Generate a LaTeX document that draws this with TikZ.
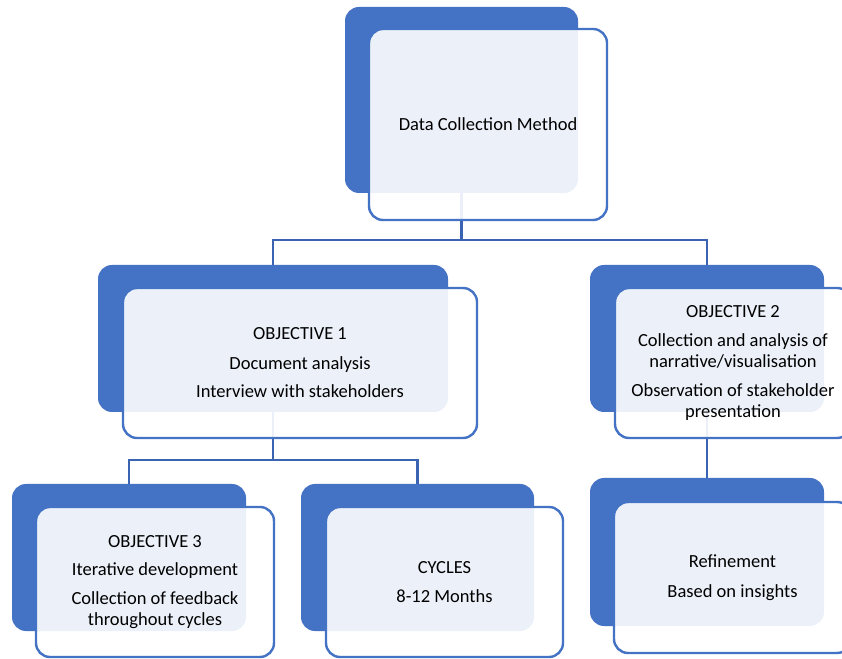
\documentclass[tikz,border=0pt]{standalone}
\usepackage{fontspec}
\setmainfont{Carlito}
\usetikzlibrary{%
  positioning
 ,backgrounds
}
\definecolor{accent}{HTML}{4472C4}
\definecolor{linkblue}{HTML}{3A64B2}
\tikzstyle{org}=[x=1pt,y=1pt,inner sep=0pt]
\tikzstyle{back}=[rectangle,rounded corners=14pt,fill=accent,draw=none]
\tikzstyle{front}=[rectangle,rounded corners=14pt,draw=accent,line width=2.4pt,fill=white,fill opacity=0.9,text opacity=1,align=center,font=\fontsize{18.5}{21.5}\selectfont]
\tikzstyle{link}=[draw=linkblue,line width=2.5pt]

\begin{document}
\begin{tikzpicture}[org]
      \useasboundingbox (0,0) rectangle (842,658);
      % top level
      \node[back,minimum width=233,minimum height=186] (dcm_b) at (461.5,558) {};
      \node[front,minimum width=238,minimum height=191] (dcm) at ([shift={(26.5,-24.5)}]dcm_b.center) {Data Collection Method};
      % second row
      \node[back,minimum width=350,minimum height=147] (obj1_b) at (273,319.5) {};
      \node[front,minimum width=354,minimum height=150] (obj1) at ([shift={(27,-24.5)}]obj1_b.center)
        {OBJECTIVE 1\\[8pt]Document analysis\\[7pt]Interview with stakeholders};
      \node[back,minimum width=234,minimum height=147] (obj2_b) at (707,319.5) {};
      \node[front,minimum width=236,minimum height=150] (obj2) at ([shift={(26,-24.5)}]obj2_b.center)
        {OBJECTIVE 2\\[7pt]Collection and analysis of\\narrative/visualisation\\[7pt]Observation of stakeholder\\presentation};
      % third row
      \node[back,minimum width=234,minimum height=147] (obj3_b) at (129,100.5) {};
      \node[front,minimum width=238,minimum height=150] (obj3) at ([shift={(26,-24.5)}]obj3_b.center)
        {OBJECTIVE 3\\[7pt]Iterative development\\[7pt]Collection of feedback\\throughout cycles};
      \node[back,minimum width=233,minimum height=147] (cyc_b) at (417.5,100.5) {};
      \node[front,minimum width=237,minimum height=150] (cyc) at ([shift={(27,-24.5)}]cyc_b.center)
        {CYCLES\\[8pt]8-12 Months};
      \node[back,minimum width=234,minimum height=148] (ref_b) at (707,106) {};
      \node[front,minimum width=237,minimum height=151] (ref) at ([shift={(25.5,-25.5)}]ref_b.center)
        {Refinement\\[8pt]Based on insights};
      \begin{pgfonlayer}{background}
        \fill[white] (0,0) rectangle (842,658);
        \path[link]
          (dcm_b.south) -- ++(0,-47) -| (obj1_b.north)
          (dcm_b.south) -- ++(0,-47) -| (obj2_b.north)
          (obj1_b.south) -- ++(0,-48) -| (obj3_b.north)
          (obj1_b.south) -- ++(0,-48) -| (cyc_b.north)
          (obj2_b.south) -- (ref_b.north);
      \end{pgfonlayer}
    \end{tikzpicture}
\end{document}
